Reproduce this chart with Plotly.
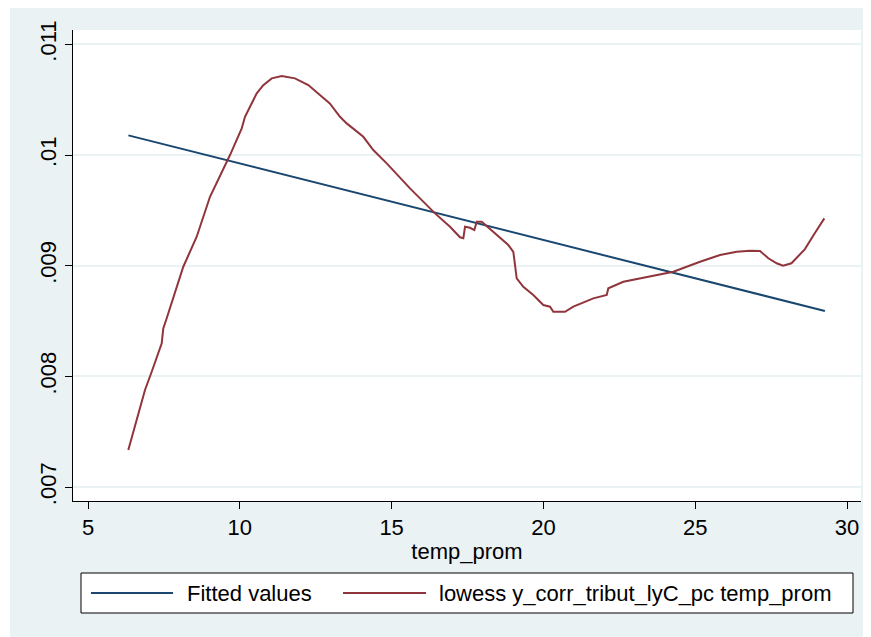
import plotly.graph_objects as go

# ---------------- data ----------------
fit_x = [6.33, 29.27]
fit_y = [0.010178, 0.008591]

lowess_x = [6.327, 6.877, 7.098, 7.428, 7.480, 7.592, 8.139, 8.580, 9.018, 9.677,
            10.063, 10.171, 10.336, 10.557, 10.774, 11.051, 11.380, 11.818, 12.256, 12.635,
            12.964, 13.300, 13.521, 14.068, 14.397, 14.839, 15.606, 16.430, 16.924, 17.253,
            17.362, 17.418, 17.582, 17.724, 17.803, 17.968, 18.350, 18.844, 19.009, 19.065,
            19.120, 19.338, 19.667, 19.997, 20.217, 20.326, 20.711, 20.985, 21.644, 22.085,
            22.138, 22.632, 23.182, 24.279, 25.158, 25.817, 26.367, 26.805, 27.134, 27.408,
            27.684, 27.892, 28.169, 28.607, 28.937, 29.252]
lowess_y = [0.007335, 0.007877, 0.008042, 0.008299, 0.008434, 0.008525, 0.008991, 0.009262, 0.009623, 0.010000,
            0.010241, 0.010346, 0.010436, 0.010557, 0.010632, 0.010693, 0.010714, 0.010693, 0.010632, 0.010542,
            0.010467, 0.010346, 0.010286, 0.010165, 0.010045, 0.009925, 0.009699, 0.009473, 0.009352, 0.009257,
            0.009248, 0.009352, 0.009343, 0.009322, 0.009397, 0.009397, 0.009307, 0.009187, 0.009126, 0.009022,
            0.008886, 0.008810, 0.008735, 0.008645, 0.008630, 0.008584, 0.008584, 0.008630, 0.008705, 0.008735,
            0.008796, 0.008855, 0.008886, 0.008946, 0.009036, 0.009097, 0.009127, 0.009136, 0.009133, 0.009067,
            0.009022, 0.009000, 0.009022, 0.009148, 0.009293, 0.009428]

x_ticks = [5, 10, 15, 20, 25, 30]
y_ticks = [0.007, 0.008, 0.009, 0.010, 0.011]
y_tick_labels = [".007", ".008", ".009", ".01", ".011"]

series_names = ["Fitted values", "lowess y_corr_tribut_lyC_pc temp_prom"]
x_title = "temp_prom"

# ---------------- styling ----------------
OFF = 8  # page body margin
W, H = 871 - OFF, 637 - OFF
L, R, T, B = 73 - OFF, 861 - OFF, 30 - OFF, 501 - OFF
FONT = "Liberation Sans, Arial, sans-serif"
FS = 22
BLUE = "#1A476F"
MAROON = "#90353B"
BG = "#EAF2F3"


def px(xs):
    return (xs - OFF - L) / (R - L)


def py(ys):
    return (B - (ys - OFF)) / (B - T)


fig = go.Figure()
fig.add_trace(go.Scatter(x=fit_x, y=fit_y, mode="lines", name=series_names[0],
                         line=dict(color=BLUE, width=2)))
fig.add_trace(go.Scatter(x=lowess_x, y=lowess_y, mode="lines", name=series_names[1],
                         line=dict(color=MAROON, width=2)))

shapes = [
    # thin white strip on the left
    dict(type="rect", xref="paper", yref="paper", x0=px(OFF), x1=px(10), y0=py(637), y1=py(OFF),
         fillcolor="white", line=dict(width=0), layer="below"),
    # legend box
    dict(type="rect", xref="paper", yref="paper", x0=px(81), x1=px(853), y0=py(613), y1=py(573),
         fillcolor="white", line=dict(color="black", width=1)),
    dict(type="line", xref="paper", yref="paper", x0=px(91), x1=px(173), y0=py(593), y1=py(593),
         line=dict(color=BLUE, width=2)),
    dict(type="line", xref="paper", yref="paper", x0=px(343), x1=px(426), y0=py(593), y1=py(593),
         line=dict(color=MAROON, width=2)),
]

annotations = [
    dict(text=series_names[0], xref="paper", yref="paper", x=px(185), y=py(593),
         xanchor="left", yanchor="middle", showarrow=False, font=dict(size=FS, color="black")),
    dict(text=series_names[1], xref="paper", yref="paper", x=px(437), y=py(593),
         xanchor="left", yanchor="middle", showarrow=False, font=dict(size=FS, color="black")),
]

fig.update_layout(
    width=W, height=H,
    margin=dict(l=L, r=W - R, t=T, b=H - B, pad=0),
    paper_bgcolor=BG, plot_bgcolor="white",
    font=dict(family=FONT, size=FS, color="black"),
    showlegend=False,
    shapes=shapes, annotations=annotations,
    xaxis=dict(range=[4.506, 30.46], tickvals=x_ticks, ticks="outside", ticklen=7,
               tickcolor="black", showline=True, linecolor="black", linewidth=1,
               showgrid=False, zeroline=False,
               title=dict(text=x_title, font=dict(size=FS), standoff=4),
               tickfont=dict(size=FS)),
    yaxis=dict(range=[0.006874, 0.01113], tickvals=y_ticks, ticktext=y_tick_labels,
               ticks="outside", ticklen=7, tickcolor="black", tickangle=-90,
               showline=True, linecolor="black", linewidth=1,
               showgrid=True, gridcolor=BG, gridwidth=2, zeroline=False,
               tickfont=dict(size=FS)),
)

fig.write_html("out.html")
